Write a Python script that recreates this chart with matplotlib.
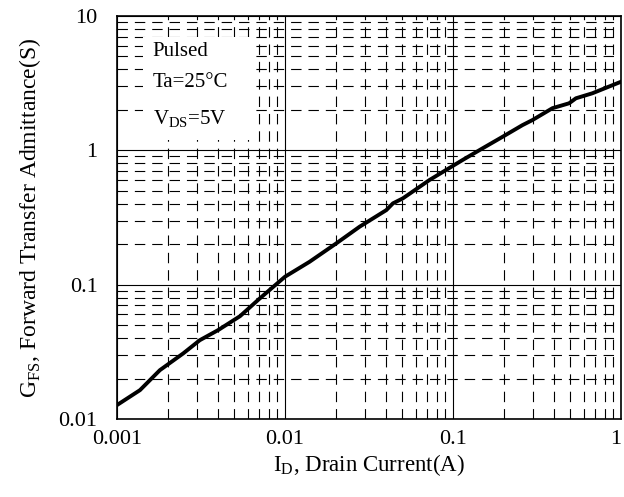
import matplotlib
matplotlib.use("Agg")
import matplotlib.pyplot as plt
from matplotlib.patches import Rectangle
from matplotlib.ticker import FixedLocator, NullFormatter

plt.rcParams['font.family'] = ['Liberation Serif', 'DejaVu Serif']
plt.rcParams['lines.scale_dashes'] = False

# drain current (A) vs forward transfer admittance (S)
id_a = [0.001, 0.00137, 0.0018, 0.00248, 0.00311, 0.0040, 0.0054, 0.00708,
        0.01, 0.014, 0.0202, 0.0278, 0.0401, 0.0439, 0.0503, 0.0724,
        0.114, 0.150, 0.197, 0.259, 0.297, 0.391, 0.491, 0.539, 0.676, 1.0]
gfs = [0.0127, 0.0164, 0.0231, 0.0308, 0.0386, 0.0459, 0.0583, 0.079,
       0.1146, 0.148, 0.203, 0.270, 0.359, 0.403, 0.439, 0.601,
       0.847, 1.035, 1.26, 1.54, 1.68, 2.06, 2.24, 2.44, 2.66, 3.24]

xticks = [0.001, 0.01, 0.1, 1]
xlabels = ['0.001', '0.01', '0.1', '1']
yticks = [0.01, 0.1, 1, 10]
ylabels = ['0.01', '0.1', '1', '10']

fig = plt.figure(figsize=(6.24, 4.97), dpi=100)
ax = fig.add_axes([117 / 624, 1 - 419 / 497, 504 / 624, 403 / 497])
ax.set_xscale('log')
ax.set_yscale('log')
ax.set_xlim(0.001, 1)
ax.set_ylim(0.01, 10)

ax.set_xticks(xticks)
ax.set_xticklabels(xlabels)
ax.set_yticks(yticks)
ax.set_yticklabels(ylabels)
ax.get_xticklabels()[-1].set_horizontalalignment('right')
minors_x = [m * d for d in [0.001, 0.01, 0.1] for m in range(2, 10)]
minors_y = [m * d for d in [0.01, 0.1, 1] for m in range(2, 10)]
ax.xaxis.set_minor_locator(FixedLocator(minors_x))
ax.yaxis.set_minor_locator(FixedLocator(minors_y))
ax.xaxis.set_minor_formatter(NullFormatter())
ax.yaxis.set_minor_formatter(NullFormatter())
ax.tick_params(which='both', length=0, labelsize=16, colors='black')
ax.tick_params(axis='x', pad=8)
ax.tick_params(axis='y', pad=14)

ax.set_axisbelow(True)
ax.grid(which='major', color='black', linewidth=0.8, linestyle='-')
ax.grid(which='minor', color='black', linewidth=0.8, linestyle=(0, (7.5, 5)))

for s in ax.spines.values():
    s.set_linewidth(1.2)

# white panel behind the condition text
ax.add_patch(Rectangle((0.051, 0.692), 0.222, 0.256, transform=ax.transAxes,
                       facecolor='white', edgecolor='none', zorder=0.9))
ax.text(0.071, 0.911, 'Pulsed', transform=ax.transAxes, fontsize=15, va='center')
ax.text(0.071, 0.836, 'Ta=25°C', transform=ax.transAxes, fontsize=15, va='center')
ax.text(0.071, 0.745, 'V$_{\\mathregular{DS}}$=5V', transform=ax.transAxes, fontsize=15, va='center')

ax.plot(id_a, gfs, color='black', linewidth=2.8, zorder=3)

ax.set_xlabel('I$_{\\mathregular{D}}$, Drain Current(A)', fontsize=16.5, labelpad=2)
ax.set_ylabel('G$_{\\mathregular{FS}}$, Forward Transfer Admittance(S)', fontsize=17, labelpad=11)

fig.savefig('out.png', dpi=100)
